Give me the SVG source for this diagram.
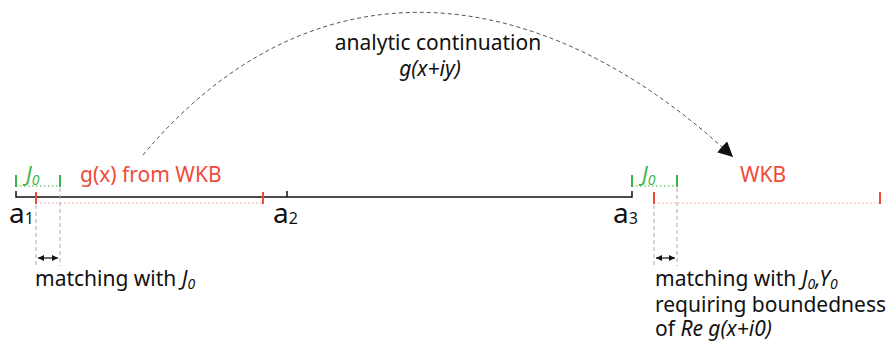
<svg xmlns="http://www.w3.org/2000/svg" width="890" height="348" viewBox="0 0 890 348">
<defs>
<style>
.t{font-family:"Noto Sans","Open Sans",sans-serif;font-size:21px;fill:#111}
.it{font-style:italic}
.red{fill:#ef4b3b}
.grn{fill:#3ab54a}
.a{font-family:"Noto Sans","Open Sans",sans-serif;font-size:28px;fill:#111}
.blk{stroke:#111;stroke-width:1.5;fill:none}
.rt{stroke:#ef4b3b;stroke-width:2}
.rd{stroke:#f4a49c;stroke-width:1.2;stroke-dasharray:1.5 2.5}
.gt{stroke:#3ab54a;stroke-width:2}
.gd{stroke:#3ab54a;stroke-width:1.2;stroke-dasharray:1.5 2.5}
.gv{stroke:#aaa;stroke-width:1;stroke-dasharray:4 3}
.arc{stroke:#555;stroke-width:1;fill:none;stroke-dasharray:4 3}
.dbl{stroke:#111;stroke-width:1.2;marker-start:url(#ah2);marker-end:url(#ah2)}
</style>
<marker id="ah" viewBox="0 0 10 10" refX="10" refY="5" markerWidth="15" markerHeight="15" markerUnits="userSpaceOnUse" orient="auto"><path d="M0,0 L10,5 L0,10 z" fill="#111"/></marker>
<marker id="ah2" viewBox="0 0 10 10" refX="10" refY="5" markerWidth="6" markerHeight="6" markerUnits="userSpaceOnUse" orient="auto-start-reverse"><path d="M0,0 L10,5 L0,10 z" fill="#111"/></marker>
</defs>
<g id="connectors">
<path class="arc" d="M143,155 C305,-39 530,-32 733,157" marker-end="url(#ah)"/>
</g>
<g id="axis">
<path class="blk" d="M16,191 V197 H632 V191 M287,191 V197"/>
</g>
<g id="left-segment">
<line class="rd" x1="36" y1="203" x2="263" y2="203"/>
<line class="rt" x1="36" y1="192" x2="36" y2="204"/>
<line class="rt" x1="263" y1="192" x2="263" y2="204"/>
<line class="gd" x1="16" y1="186" x2="60" y2="186"/>
<line class="gt" x1="16" y1="175" x2="16" y2="187"/>
<line class="gt" x1="60" y1="175" x2="60" y2="187"/>
<text class="t it grn" x="26" y="182">J<tspan dy="3" font-size="14">0</tspan></text>
<text class="t red" x="80" y="182">g(x) from WKB</text>
<line class="gv" x1="36" y1="205" x2="36" y2="266"/>
<line class="gv" x1="60" y1="188" x2="60" y2="266"/>
<line class="dbl" x1="38" y1="258" x2="58" y2="258"/>
<text class="t" x="35" y="286">matching with <tspan class="it">J<tspan font-size="14" dy="3">0</tspan></tspan></text>
</g>
<g id="right-segment">
<line class="rd" x1="654" y1="203" x2="880" y2="203"/>
<line class="rt" x1="654" y1="192" x2="654" y2="204"/>
<line class="rt" x1="880" y1="192" x2="880" y2="204"/>
<line class="gd" x1="632" y1="186" x2="677" y2="186"/>
<line class="gt" x1="632" y1="175" x2="632" y2="187"/>
<line class="gt" x1="677" y1="175" x2="677" y2="187"/>
<text class="t it grn" x="642" y="182">J<tspan dy="3" font-size="14">0</tspan></text>
<text class="t red" x="740" y="182">WKB</text>
<line class="gv" x1="654" y1="205" x2="654" y2="266"/>
<line class="gv" x1="677" y1="188" x2="677" y2="266"/>
<line class="dbl" x1="656" y1="258" x2="675" y2="258"/>
<text class="t" x="655" y="286">matching with <tspan class="it">J<tspan font-size="14" dy="3">0</tspan><tspan dy="-3">,Y</tspan><tspan font-size="14" dy="3">0</tspan></tspan></text>
<text class="t" x="655" y="312">requiring boundedness</text>
<text class="t" x="655" y="336">of <tspan class="it">Re g(x+i0)</tspan></text>
</g>
<g id="labels">
<text class="a" x="9" y="223">a<tspan font-size="16" dy="1">1</tspan></text>
<text class="a" x="273" y="223">a<tspan font-size="16" dy="1">2</tspan></text>
<text class="a" x="613" y="223">a<tspan font-size="16" dy="1">3</tspan></text>
<text class="t" x="438" y="50" text-anchor="middle">analytic continuation</text>
<text class="t it" x="430" y="76" text-anchor="middle">g(x+iy)</text>
</g>
</svg>
